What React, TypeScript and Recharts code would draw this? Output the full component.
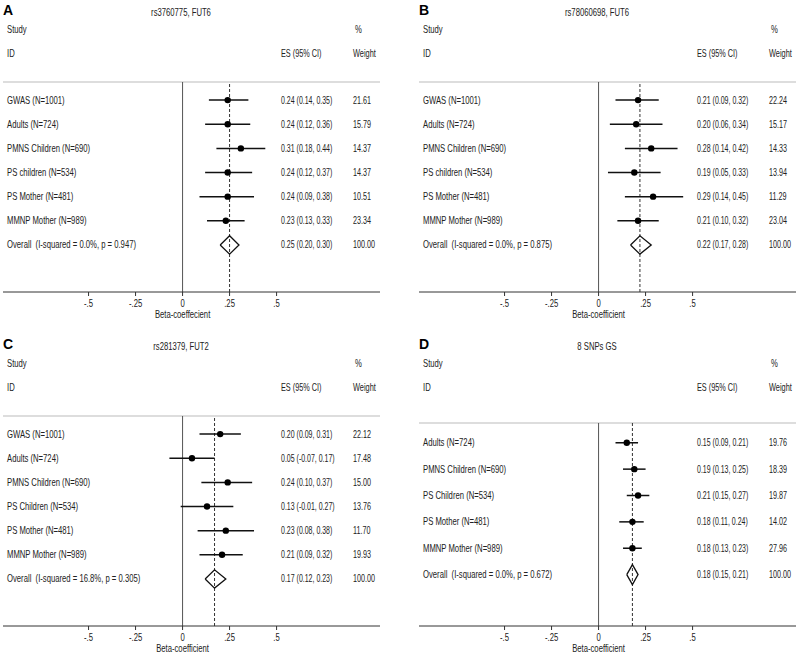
import { ComposedChart, ReferenceLine, Scatter, XAxis, YAxis } from "recharts";

const FONT = "'Liberation Sans', Arial, sans-serif";
const INK = "#222";

// A: rs3760775, FUT6
const studiesA = ["GWAS (N=1001)", "Adults (N=724)", "PMNS Children (N=690)", "PS children (N=534)", "PS Mother (N=481)", "MMNP Mother (N=989)"];
const esA = [0.24, 0.24, 0.31, 0.24, 0.24, 0.23];
const lowA = [0.14, 0.12, 0.18, 0.12, 0.09, 0.13];
const highA = [0.35, 0.36, 0.44, 0.37, 0.38, 0.33];
const weightA = ["21.61", "15.79", "14.37", "14.37", "10.51", "23.34"];
const overallA = [0.25, 0.2, 0.3];
const hetA = "Overall  (I-squared = 0.0%, p = 0.947)";

// B: rs78060698, FUT6
const studiesB = ["GWAS (N=1001)", "Adults (N=724)", "PMNS Children (N=690)", "PS children (N=534)", "PS Mother (N=481)", "MMNP Mother (N=989)"];
const esB = [0.21, 0.2, 0.28, 0.19, 0.29, 0.21];
const lowB = [0.09, 0.06, 0.14, 0.05, 0.14, 0.1];
const highB = [0.32, 0.34, 0.42, 0.33, 0.45, 0.32];
const weightB = ["22.24", "15.17", "14.33", "13.94", "11.29", "23.04"];
const overallB = [0.22, 0.17, 0.28];
const hetB = "Overall  (I-squared = 0.0%, p = 0.875)";

// C: rs281379, FUT2
const studiesC = ["GWAS (N=1001)", "Adults (N=724)", "PMNS Children (N=690)", "PS Children (N=534)", "PS Mother (N=481)", "MMNP Mother (N=989)"];
const esC = [0.2, 0.05, 0.24, 0.13, 0.23, 0.21];
const lowC = [0.09, -0.07, 0.1, -0.01, 0.08, 0.09];
const highC = [0.31, 0.17, 0.37, 0.27, 0.38, 0.32];
const weightC = ["22.12", "17.48", "15.00", "13.76", "11.70", "19.93"];
const overallC = [0.17, 0.12, 0.23];
const hetC = "Overall  (I-squared = 16.8%, p = 0.305)";

// D: 8 SNPs GS
const studiesD = ["Adults (N=724)", "PMNS Children (N=690)", "PS Children (N=534)", "PS Mother (N=481)", "MMNP Mother (N=989)"];
const esD = [0.15, 0.19, 0.21, 0.18, 0.18];
const lowD = [0.09, 0.13, 0.15, 0.11, 0.13];
const highD = [0.21, 0.25, 0.27, 0.24, 0.23];
const weightD = ["19.76", "18.39", "19.87", "14.02", "27.96"];
const overallD = [0.18, 0.15, 0.21];
const hetD = "Overall  (I-squared = 0.0%, p = 0.672)";

const xTicks = [-0.5, -0.25, 0, 0.25, 0.5];

type Row = { label: string; es: number; lo: number; hi: number; w: string };

function buildRows(labels: string[], es: number[], lo: number[], hi: number[], w: string[], het: string, overall: number[]): Row[] {
  const rows = labels.map((label, i) => ({ label, es: es[i], lo: lo[i], hi: hi[i], w: w[i] }));
  rows.push({ label: het, es: overall[0], lo: overall[1], hi: overall[2], w: "100.00" });
  return rows;
}

const fmtTick = (v: number) => (v === 0 ? "0" : String(v).replace("0.", "."));
const ciText = (r: Row) => `${r.es.toFixed(2)} (${r.lo.toFixed(2)}, ${r.hi.toFixed(2)})`;

// the original uses a condensed face; squeeze Liberation Sans horizontally
function NText({ x, y, children, anchor = "start", sx = 0.77 }: { x: number; y: number; children: any; anchor?: string; sx?: number }) {
  return (
    <text
      transform={`translate(${x},${y}) scale(${sx},1)`}
      dy="0.35em"
      textAnchor={anchor as any}
      fontFamily={FONT}
      fontSize={10}
      fill={INK}
      style={{ whiteSpace: "pre" }}
    >
      {children}
    </text>
  );
}

type PanelProps = {
  letter: string;
  title: string;
  rows: Row[];
  axisTitle: string;
  left: number;
  top: number;
  plotTop: number;
};

function ForestPanel({ letter, title, rows, axisTitle, left, top, plotTop }: PanelProps) {
  const n = rows.length;
  const overall = rows[n - 1];
  const points = rows.slice(0, n - 1).map((r, i) => ({ x: r.es, y: i }));
  const textRows = rows.map((r, i) => ({ x: r.es, y: i, row: r }));
  const h = 0.38;
  const diamond = [
    { x: overall.lo, y: n - 1 },
    { x: overall.es, y: n - 1 - h },
    { x: overall.hi, y: n - 1 },
    { x: overall.es, y: n - 1 + h },
    { x: overall.lo, y: n - 1 }
  ];

  const rowText = (p: any) => {
    const r: Row = p.payload.row;
    return (
      <g>
        <NText x={7} y={p.cy}>{r.label}</NText>
        <NText x={281} y={p.cy} sx={0.7}>{ciText(r)}</NText>
        <NText x={353} y={p.cy} sx={0.72}>{r.w}</NText>
      </g>
    );
  };

  const xTick = (props: any) => {
    const v = props.payload.value;
    return (
      <g>
        <NText x={props.x} y={props.y + 5} anchor="middle">{fmtTick(v)}</NText>
        {v === 0 && <NText x={props.x} y={props.y + 16} anchor="middle">{axisTitle}</NText>}
      </g>
    );
  };

  return (
    <div style={{ position: "absolute", left, top, width: 384, height: 330 }}>
      <svg width={384} height={70} style={{ position: "absolute", left: 0, top: 0 }}>
        <text x={3} y={10} dy="0.35em" fontFamily={FONT} fontWeight="bold" fontSize={14} fill="#000">{letter}</text>
        <NText x={181} y={12} anchor="middle">{title}</NText>
        <NText x={7} y={29}>Study</NText>
        <NText x={355} y={29}>%</NText>
        <NText x={7} y={53}>ID</NText>
        <NText x={281} y={53} sx={0.73}>ES (95% CI)</NText>
        <NText x={353} y={53} sx={0.74}>Weight</NText>
      </svg>
      <ComposedChart width={384} height={330} margin={{ top: plotTop, right: 4, bottom: 8, left: 3 }} style={{ position: "absolute", left: 0, top: 0 }}>
        <XAxis
          type="number"
          dataKey="x"
          domain={[-0.955, 1.05]}
          allowDataOverflow
          ticks={xTicks}
          interval={0}
          tickSize={4}
          height={30}
          stroke="#333"
          tick={xTick}
        />
        <YAxis type="number" dataKey="y" domain={[-0.75, n - 1 + 1.95]} allowDataOverflow reversed hide />
        <ReferenceLine y={-0.75} stroke="#bbb" ifOverflow="visible" />
        <ReferenceLine x={0} stroke="#555" ifOverflow="visible" />
        <ReferenceLine x={overall.es} stroke="#333" strokeDasharray="3 2" ifOverflow="visible" />
        {rows.slice(0, n - 1).map((r, i) => (
          <ReferenceLine
            key={i}
            segment={[{ x: r.lo, y: i }, { x: r.hi, y: i }]}
            stroke="#111"
            strokeWidth={1.5}
            ifOverflow="visible"
          />
        ))}
        <Scatter data={textRows} isAnimationActive={false} shape={rowText} />
        <Scatter
          data={points}
          fill="#000"
          isAnimationActive={false}
          shape={(p: any) => <circle cx={p.cx} cy={p.cy} r={3.2} fill="#000" />}
        />
        <Scatter
          data={diamond}
          fill="#000"
          line={{ stroke: "#111", strokeWidth: 1.3, fill: "none" }}
          lineType="joint"
          isAnimationActive={false}
          shape={() => <g />}
        />
      </ComposedChart>
    </div>
  );
}

export default function App() {
  const rowsA = buildRows(studiesA, esA, lowA, highA, weightA, hetA, overallA);
  const rowsB = buildRows(studiesB, esB, lowB, highB, weightB, hetB, overallB);
  const rowsC = buildRows(studiesC, esC, lowC, highC, weightC, hetC, overallC);
  const rowsD = buildRows(studiesD, esD, lowD, highD, weightD, hetD, overallD);
  return (
    <div style={{ position: "absolute", left: 0, top: 0, width: 800, height: 655, background: "#fff", overflow: "hidden" }}>
      <ForestPanel letter="A" title="rs3760775, FUT6" rows={rowsA} axisTitle="Beta-coeffecient" left={0} top={0} plotTop={82} />
      <ForestPanel letter="B" title="rs78060698, FUT6" rows={rowsB} axisTitle="Beta-coefficient" left={416} top={0} plotTop={82} />
      <ForestPanel letter="C" title="rs281379, FUT2" rows={rowsC} axisTitle="Beta-coefficient" left={0} top={334} plotTop={82} />
      <ForestPanel letter="D" title="8 SNPs GS" rows={rowsD} axisTitle="Beta-coefficient" left={416} top={334} plotTop={89} />
    </div>
  );
}
